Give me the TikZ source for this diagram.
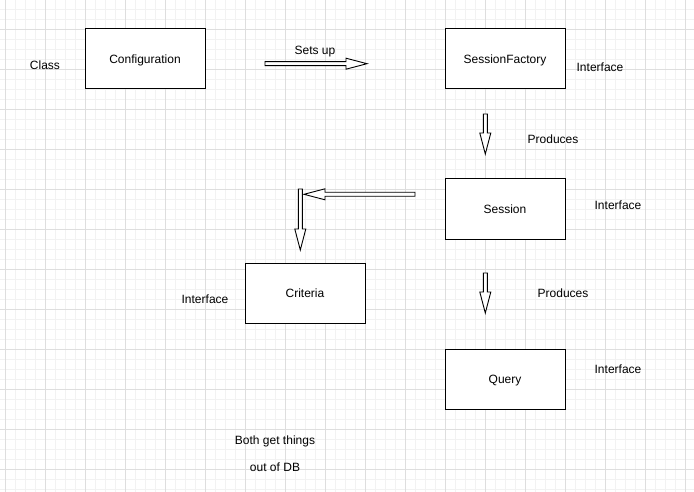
\documentclass[tikz,border=0pt]{standalone}
\usepackage{fontspec}
\setmainfont{Liberation Sans}
\begin{document}
\begin{tikzpicture}[x=1pt,y=-1pt,
  every node/.style={font=\fontsize{12}{14}\selectfont, text height=8.6pt, text depth=0pt},
  box/.style={draw=black, line width=1pt, fill=white, minimum width=120pt, minimum height=60pt, inner sep=0pt},
  lbl/.style={inner sep=0pt},
  barrowline/.style={draw=black, line width=0.9pt, fill=white, line join=miter},
  pics/barrow/.style={code={
    \path[barrowline] (0,-2) -- ({#1-21},-2) -- ({#1-21},-5.5) -- (#1,0) -- ({#1-21},5.5) -- ({#1-21},2) -- (0,2) -- cycle;
  }}
]
\useasboundingbox (0,0) rectangle (694,492);
% grid
\foreach \x in {5,15,...,694} \draw[color=black!5, line width=0.8pt] (\x,0) -- (\x,492);
\foreach \y in {9,19,...,492} \draw[color=black!5, line width=0.8pt] (0,\y) -- (694,\y);
\foreach \x in {5,45,...,694} \draw[color=black!13, line width=0.8pt] (\x,0) -- (\x,492);
\foreach \y in {29,69,...,492} \draw[color=black!13, line width=0.8pt] (0,\y) -- (694,\y);

% boxes
\node[box] (conf) at (145,59) {Configuration};
\node[box] (sf) at (505,59) {SessionFactory};
\node[box] (sess) at (505,209) {Session};
\node[box] (crit) at (305,293) {Criteria};
\node[box] (query) at (505,379) {Query};

% labels
\node[lbl] (lclass) at (45,65) {Class};
\node[lbl] (lsetsup) at (315,50) {Sets up};
\node[lbl] (lif1) at (600,67) {Interface};
\node[lbl] (lprod1) at (553,139) {Produces};
\node[lbl] (lif2) at (618,205) {Interface};
\node[lbl] (lif3) at (205,299) {Interface};
\node[lbl] (lprod2) at (563,293) {Produces};
\node[lbl] (lif4) at (618,369) {Interface};
\node[lbl] (lboth) at (275,440) {Both get things};
\node[lbl] (lout) at (275,467) {out of DB};

% block arrows
\coordinate (a1) at (265,63.7);
\coordinate (a2) at (485.3,114);
\coordinate (a3) at (415,194.3);
\coordinate (a4) at (300.3,189);
\coordinate (a5) at (485.3,273);
\pic at (a1) {barrow=102};
\pic[rotate=-90] at (a2) {barrow=40};
\pic[rotate=180] at (a3) {barrow=111};
\pic[rotate=-90] at (a4) {barrow=61};
\pic[rotate=-90] at (a5) {barrow=40};
\end{tikzpicture}
\end{document}
